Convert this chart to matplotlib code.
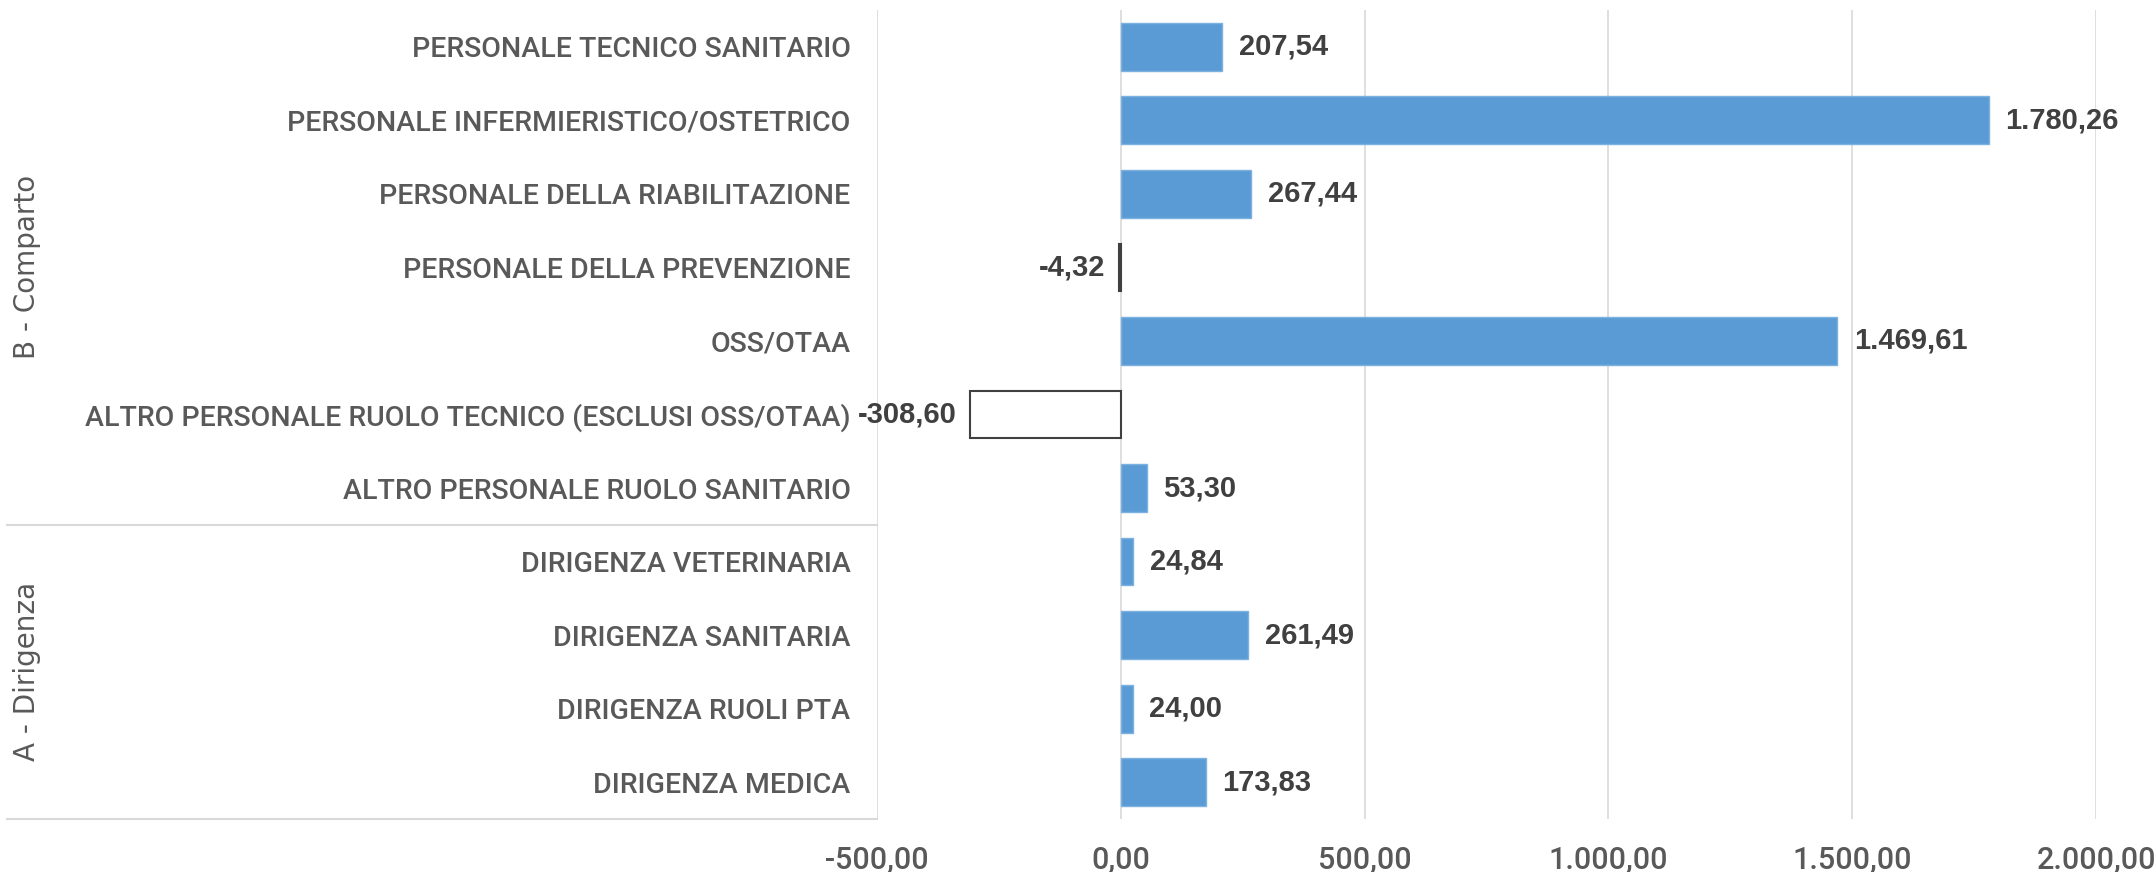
import matplotlib
matplotlib.use("Agg")
import matplotlib.pyplot as plt
import matplotlib.transforms as mtransforms

# data (bottom to top, as in the chart)
categories = [
    "DIRIGENZA MEDICA",
    "DIRIGENZA RUOLI PTA",
    "DIRIGENZA SANITARIA",
    "DIRIGENZA VETERINARIA",
    "ALTRO PERSONALE RUOLO SANITARIO",
    "ALTRO PERSONALE RUOLO TECNICO (ESCLUSI OSS/OTAA)",
    "OSS/OTAA",
    "PERSONALE DELLA PREVENZIONE",
    "PERSONALE DELLA RIABILITAZIONE",
    "PERSONALE INFERMIERISTICO/OSTETRICO",
    "PERSONALE TECNICO SANITARIO",
]
values = [173.83, 24.00, 261.49, 24.84, 53.30, -308.60, 1469.61, -4.32, 267.44, 1780.26, 207.54]
groups = ["A - Dirigenza", "B - Comparto"]
group_sizes = [4, 7]
xticks = [-500, 0, 500, 1000, 1500, 2000]

BLUE = "#5B9BD5"
GRID = "#D9D9D9"
TXT = "#595959"
CAT_FONT = ["Roboto", "DejaVu Sans"]
VAL_FONT = ["Liberation Sans", "DejaVu Sans"]


def it_fmt(v):
    # italian number format 1.234,56
    s = "{:,.2f}".format(v)
    return s.replace(",", "X").replace(".", ",").replace("X", ".")


fig = plt.figure(figsize=(21.56, 8.72), dpi=100)
ax = fig.add_axes([877 / 2156, 1 - 819 / 872, 1219 / 2156, 809 / 872])

ypos = list(range(len(categories)))
for y, v in zip(ypos, values):
    if v >= 0:
        ax.barh(y, v, height=0.65, color=BLUE, edgecolor="#7DB1E0", linewidth=1, zorder=3)
        ax.annotate(it_fmt(v), (v, y), xytext=(12, 0), textcoords="offset points",
                    ha="left", va="center", fontsize=21, fontweight="bold",
                    color="#404040", family=VAL_FONT)
    else:
        ax.barh(y, v, height=0.65, color="white", edgecolor="#404040", linewidth=1.5, zorder=3)
        ax.annotate(it_fmt(v), (v, y), xytext=(-10, 0), textcoords="offset points",
                    ha="right", va="center", fontsize=21, fontweight="bold",
                    color="#404040", family=VAL_FONT)

ax.set_xlim(-500, 2000)
ax.set_ylim(-0.5, len(categories) - 0.5)
ax.set_xticks(xticks)
ax.set_xticklabels([it_fmt(t) for t in xticks], family=CAT_FONT, fontsize=22,
                   fontweight="medium", color=TXT)
ax.set_yticks(ypos)
ax.set_yticklabels(categories, family=CAT_FONT, fontsize=20.5, fontweight="medium", color=TXT)
ax.tick_params(axis="x", length=0, pad=19)
ax.tick_params(axis="y", length=0, pad=19)
ax.grid(axis="x", color=GRID, linewidth=1.2, zorder=0)
for s in ax.spines.values():
    s.set_visible(False)

# group frame on the left (multi level category axis)
tr = mtransforms.blended_transform_factory(fig.transFigure, ax.transData)
x0 = 7 / 2156
x1 = 877 / 2156
start = -0.5
for g, n in zip(groups, group_sizes):
    ax.plot([x0, x1], [start, start], color=GRID, linewidth=1.5, transform=tr, clip_on=False)
    mid = start + n / 2
    ax.text(27 / 2156, mid, g, transform=tr, rotation=90, ha="center", va="center",
            fontsize=20, color=TXT)
    start += n

fig.savefig("out.png", dpi=100)
